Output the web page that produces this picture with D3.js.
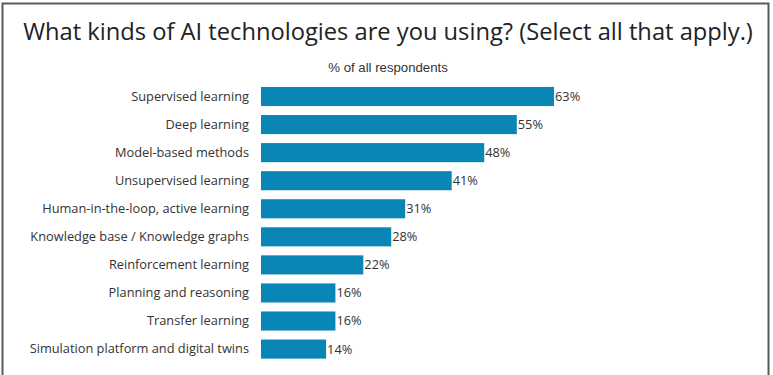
<!DOCTYPE html>
<html>
<head>
<meta charset="utf-8">
<script src="https://cdn.jsdelivr.net/npm/d3@7/dist/d3.min.js"></script>
<style>
  html, body { margin: 0; padding: 0; background: #fff; }
  svg { display: block; }
</style>
</head>
<body>
<svg id="chart" width="773" height="375"></svg>
<script>
// Share of respondents using each kind of AI technology
const categories = [
  "Supervised learning",
  "Deep learning",
  "Model-based methods",
  "Unsupervised learning",
  "Human-in-the-loop, active learning",
  "Knowledge base / Knowledge graphs",
  "Reinforcement learning",
  "Planning and reasoning",
  "Transfer learning",
  "Simulation platform and digital twins"
];
const values = [63, 55, 48, 41, 31, 28, 22, 16, 16, 14];
const titleText = "What kinds of AI technologies are you using? (Select all that apply.)";
const subtitleText = "% of all respondents";

const svg = d3.select("#chart");
const W = 773, H = 375;

// outer frame (open at the bottom)
svg.append("path")
  .attr("d", `M2.5,${H + 2} L2.5,3.5 L768.5,3.5 L768.5,${H + 2}`)
  .attr("fill", "none")
  .attr("stroke", "#5a5a5a")
  .attr("stroke-width", 2);

svg.append("text")
  .attr("x", 388)
  .attr("y", 40)
  .attr("text-anchor", "middle")
  .attr("font-family", "'Open Sans', sans-serif")
  .attr("font-size", 23.7)
  .attr("fill", "#222")
  .text(titleText);

svg.append("text")
  .attr("x", 388)
  .attr("y", 72)
  .attr("text-anchor", "middle")
  .attr("font-family", "'Liberation Sans', Arial, sans-serif")
  .attr("font-size", 13.2)
  .attr("fill", "#333")
  .text(subtitleText);

const x = d3.scaleLinear().domain([0, 63]).range([261, 554]);
const y = d3.scaleBand()
  .domain(categories)
  .range([78, 367.6])
  .paddingInner(0.32)
  .paddingOuter(0.32);

const rows = categories.map((c, i) => ({ c, v: values[i] }));

// category axis, labels only
const yAxis = d3.axisLeft(y).tickSize(0).tickPadding(0);
const gy = svg.append("g")
  .attr("transform", "translate(249,0)")
  .call(yAxis);
gy.select(".domain").remove();
gy.selectAll("text")
  .attr("font-family", "'Open Sans', sans-serif")
  .attr("font-size", 12.8)
  .attr("fill", "#333");

svg.append("g")
  .selectAll("rect")
  .data(rows)
  .join("rect")
  .attr("x", x(0))
  .attr("y", d => y(d.c))
  .attr("width", d => x(d.v) - x(0))
  .attr("height", y.bandwidth())
  .attr("fill", "#0a86b6");

svg.append("g")
  .selectAll("text")
  .data(rows)
  .join("text")
  .attr("x", d => x(d.v) + 1)
  .attr("y", d => y(d.c) + y.bandwidth() / 2)
  .attr("dy", "0.35em")
  .attr("font-family", "'Open Sans', sans-serif")
  .attr("font-size", 12.8)
  .attr("fill", "#333")
  .text(d => d.v + "%");
</script>
</body>
</html>
